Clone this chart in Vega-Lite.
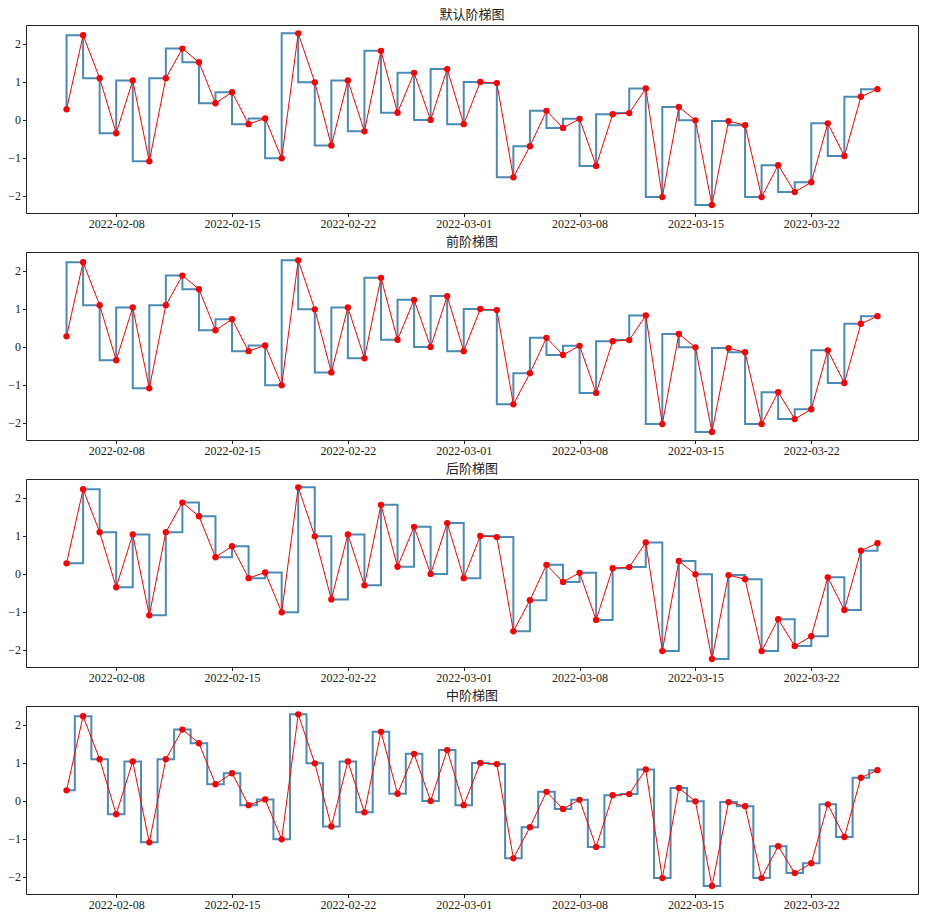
{
  "$schema": "https://vega.github.io/schema/vega-lite/v6.json",
  "background": "white",
  "padding": {"left": 7, "top": 8, "right": 3, "bottom": 5},
  "datasets": {
    "s": [
      {"date": "2022-02-05", "value": 0.28},
      {"date": "2022-02-06", "value": 2.23},
      {"date": "2022-02-07", "value": 1.10},
      {"date": "2022-02-08", "value": -0.35},
      {"date": "2022-02-09", "value": 1.04},
      {"date": "2022-02-10", "value": -1.09},
      {"date": "2022-02-11", "value": 1.10},
      {"date": "2022-02-12", "value": 1.88},
      {"date": "2022-02-13", "value": 1.52},
      {"date": "2022-02-14", "value": 0.44},
      {"date": "2022-02-15", "value": 0.73},
      {"date": "2022-02-16", "value": -0.11},
      {"date": "2022-02-17", "value": 0.04},
      {"date": "2022-02-18", "value": -1.01},
      {"date": "2022-02-19", "value": 2.28},
      {"date": "2022-02-20", "value": 0.99},
      {"date": "2022-02-21", "value": -0.67},
      {"date": "2022-02-22", "value": 1.04},
      {"date": "2022-02-23", "value": -0.30},
      {"date": "2022-02-24", "value": 1.82},
      {"date": "2022-02-25", "value": 0.19},
      {"date": "2022-02-26", "value": 1.24},
      {"date": "2022-02-27", "value": 0.00},
      {"date": "2022-02-28", "value": 1.34},
      {"date": "2022-03-01", "value": -0.11},
      {"date": "2022-03-02", "value": 1.00},
      {"date": "2022-03-03", "value": 0.97},
      {"date": "2022-03-04", "value": -1.51},
      {"date": "2022-03-05", "value": -0.69},
      {"date": "2022-03-06", "value": 0.24},
      {"date": "2022-03-07", "value": -0.21},
      {"date": "2022-03-08", "value": 0.03},
      {"date": "2022-03-09", "value": -1.21},
      {"date": "2022-03-10", "value": 0.15},
      {"date": "2022-03-11", "value": 0.18},
      {"date": "2022-03-12", "value": 0.83},
      {"date": "2022-03-13", "value": -2.03},
      {"date": "2022-03-14", "value": 0.34},
      {"date": "2022-03-15", "value": -0.01},
      {"date": "2022-03-16", "value": -2.24},
      {"date": "2022-03-17", "value": -0.03},
      {"date": "2022-03-18", "value": -0.14},
      {"date": "2022-03-19", "value": -2.03},
      {"date": "2022-03-20", "value": -1.19},
      {"date": "2022-03-21", "value": -1.90},
      {"date": "2022-03-22", "value": -1.64},
      {"date": "2022-03-23", "value": -0.09},
      {"date": "2022-03-24", "value": -0.95},
      {"date": "2022-03-25", "value": 0.61},
      {"date": "2022-03-26", "value": 0.81}
    ]
  },
  "data": {"name": "s"},
  "config": {
    "view": {"stroke": "#222", "strokeWidth": 1},
    "axis": {"grid": false, "domain": false, "tickColor": "#222", "tickSize": 3.5, "labelColor": "#222", "labelFont": "Liberation Serif", "labelFontSize": 12, "labelPadding": 2, "title": null},
    "title": {"font": "Noto Sans CJK SC", "fontSize": 13, "fontWeight": "normal", "color": "#222", "offset": 3, "anchor": "middle", "frame": "group"},
    "concat": {"spacing": 5}
  },
  "vconcat": [
    {
      "title": "默认阶梯图",
      "width": 892, "height": 188,
      "encoding": {
        "x": {"field": "date", "type": "temporal", "scale": {"type": "utc", "domain": [1643807520000, 1648464480000]}, "axis": {"values": [1644278400000, 1644883200000, 1645488000000, 1646092800000, 1646697600000, 1647302400000, 1647907200000], "labelExpr": "utcFormat(datum.value, '%Y-%m-%d')", "labelFlush": false}},
        "y": {"field": "value", "type": "quantitative", "scale": {"domain": [-2.45, 2.5], "nice": false, "zero": false}, "axis": {"values": [-2, -1, 0, 1, 2], "format": "d"}}
      },
      "layer": [
        {"mark": {"type": "line", "interpolate": "step-before", "color": "#4a8bb5", "strokeWidth": 2}},
        {"mark": {"type": "line", "color": "red", "strokeWidth": 1, "point": {"filled": true, "color": "red", "size": 40, "opacity": 1}}}
      ]
    },
    {
      "title": "前阶梯图",
      "width": 892, "height": 188,
      "encoding": {
        "x": {"field": "date", "type": "temporal", "scale": {"type": "utc", "domain": [1643807520000, 1648464480000]}, "axis": {"values": [1644278400000, 1644883200000, 1645488000000, 1646092800000, 1646697600000, 1647302400000, 1647907200000], "labelExpr": "utcFormat(datum.value, '%Y-%m-%d')", "labelFlush": false}},
        "y": {"field": "value", "type": "quantitative", "scale": {"domain": [-2.45, 2.5], "nice": false, "zero": false}, "axis": {"values": [-2, -1, 0, 1, 2], "format": "d"}}
      },
      "layer": [
        {"mark": {"type": "line", "interpolate": "step-before", "color": "#4a8bb5", "strokeWidth": 2}},
        {"mark": {"type": "line", "color": "red", "strokeWidth": 1, "point": {"filled": true, "color": "red", "size": 40, "opacity": 1}}}
      ]
    },
    {
      "title": "后阶梯图",
      "width": 892, "height": 188,
      "encoding": {
        "x": {"field": "date", "type": "temporal", "scale": {"type": "utc", "domain": [1643807520000, 1648464480000]}, "axis": {"values": [1644278400000, 1644883200000, 1645488000000, 1646092800000, 1646697600000, 1647302400000, 1647907200000], "labelExpr": "utcFormat(datum.value, '%Y-%m-%d')", "labelFlush": false}},
        "y": {"field": "value", "type": "quantitative", "scale": {"domain": [-2.45, 2.5], "nice": false, "zero": false}, "axis": {"values": [-2, -1, 0, 1, 2], "format": "d"}}
      },
      "layer": [
        {"mark": {"type": "line", "interpolate": "step-after", "color": "#4a8bb5", "strokeWidth": 2}},
        {"mark": {"type": "line", "color": "red", "strokeWidth": 1, "point": {"filled": true, "color": "red", "size": 40, "opacity": 1}}}
      ]
    },
    {
      "title": "中阶梯图",
      "width": 892, "height": 188,
      "encoding": {
        "x": {"field": "date", "type": "temporal", "scale": {"type": "utc", "domain": [1643807520000, 1648464480000]}, "axis": {"values": [1644278400000, 1644883200000, 1645488000000, 1646092800000, 1646697600000, 1647302400000, 1647907200000], "labelExpr": "utcFormat(datum.value, '%Y-%m-%d')", "labelFlush": false}},
        "y": {"field": "value", "type": "quantitative", "scale": {"domain": [-2.45, 2.5], "nice": false, "zero": false}, "axis": {"values": [-2, -1, 0, 1, 2], "format": "d"}}
      },
      "layer": [
        {"mark": {"type": "line", "interpolate": "step", "color": "#4a8bb5", "strokeWidth": 2}},
        {"mark": {"type": "line", "color": "red", "strokeWidth": 1, "point": {"filled": true, "color": "red", "size": 40, "opacity": 1}}}
      ]
    }
  ]
}
